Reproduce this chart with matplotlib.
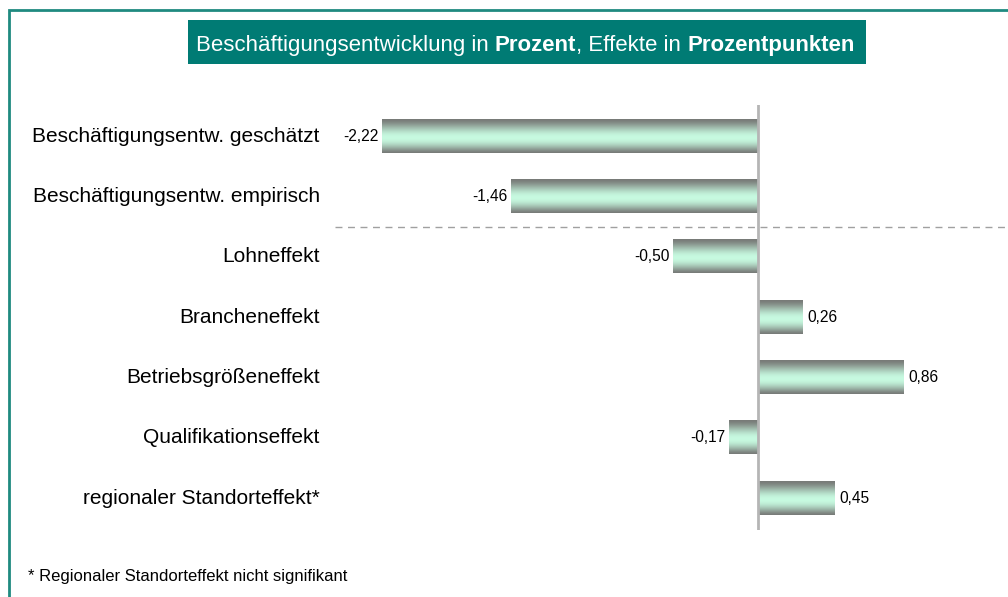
import numpy as np
import matplotlib
matplotlib.use('Agg')
import matplotlib.pyplot as plt
from matplotlib.patches import Rectangle

plt.rcParams['font.family'] = ['Liberation Sans', 'DejaVu Sans']

categories = ['Beschäftigungsentw. geschätzt', 'Beschäftigungsentw. empirisch',
              'Lohneffekt', 'Brancheneffekt', 'Betriebsgrößeneffekt',
              'Qualifikationseffekt', 'regionaler Standorteffekt*']
values = [-2.22, -1.46, -0.50, 0.26, 0.86, -0.17, 0.45]
footnote = '* Regionaler Standorteffekt nicht signifikant'

W, H = 1008, 597
TEAL = '#007b74'


def fx(x):
    return x / W


def fy(y):
    return 1 - y / H


fig = plt.figure(figsize=(W / 100, H / 100), dpi=100)

# outer frame (runs off the right and bottom edge)
fig.patches.append(Rectangle((fx(8.5), fy(700)), fx(1100), fy(9.5) - fy(700),
                             transform=fig.transFigure, fill=False,
                             edgecolor='#1f8a80', linewidth=2))

# title box with mixed normal / bold text
fig.patches.append(Rectangle((fx(188), fy(64)), fx(866) - fx(188), fy(20) - fy(64),
                             transform=fig.transFigure, facecolor=TEAL, edgecolor='none'))
parts = [('Beschäftigungsentwicklung in ', 'normal'), ('Prozent', 'bold'),
         (', Effekte in ', 'normal'), ('Prozentpunkten', 'bold')]
r = fig.canvas.get_renderer()
x = fx(196)
for txt, w in parts:
    t = fig.text(x, fy(51), txt, color='white', fontsize=16, fontweight=w, va='baseline')
    x = x + t.get_window_extent(renderer=r).width / W

# main axes
ax = fig.add_axes([fx(335), fy(530), fx(1008) - fx(335), fy(105) - fy(530)])

# vertical gradient gray - mint - gray
t = np.linspace(0, 1, 64)
m = np.clip(np.sin(np.pi * (t ** 1.15)) ** 1.3, 0, 1)
gray = np.array([0.47, 0.48, 0.47])
mint = np.array([0.78, 0.98, 0.88])
grad = (gray[None, :] * (1 - m[:, None]) + mint[None, :] * m[:, None])[:, None, :]

h = 0.55
for i, v in enumerate(values):
    l, r_ = min(0, v), max(0, v)
    ax.imshow(grad, extent=(l, r_, i + h / 2, i - h / 2), aspect='auto',
              interpolation='bilinear', zorder=2)
    lbl = f'{v:.2f}'.replace('.', ',')
    if v < 0:
        ax.text(v - 0.02, i, lbl, ha='right', va='center', fontsize=11.2)
    else:
        ax.text(v + 0.03, i, lbl, ha='left', va='center', fontsize=11.2)
    ax.text(-2.497 - 0.09, i, categories[i], ha='right', va='center', fontsize=15,
            clip_on=False)

ax.set_xlim(-2.497, 1.476)
ax.set_ylim(6.53, -0.52)
ax.axis('off')
ax.axvline(0, color='#b5b5b5', linewidth=2, zorder=3)
ax.axhline(1.5, color='#a0a0a0', linewidth=1, linestyle=(0, (5, 4)), zorder=1)

fig.text(fx(28), fy(577), footnote, fontsize=12, va='center')

fig.savefig('out.png', dpi=100)
